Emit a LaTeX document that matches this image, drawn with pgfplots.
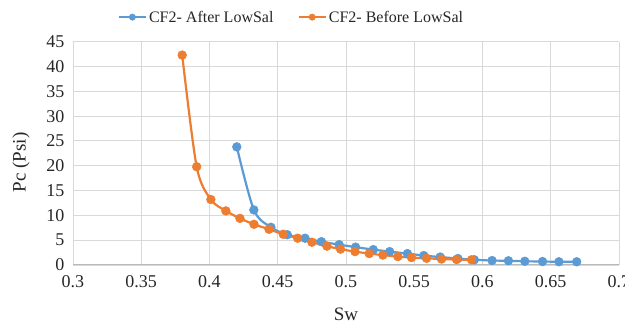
\documentclass[border=0pt]{standalone}
\usepackage{fontspec}
\setmainfont{Liberation Serif}
\usepackage{pgfplots}
\pgfplotsset{compat=1.18}
\definecolor{cblue}{HTML}{5B9BD5}
\definecolor{corange}{HTML}{ED7D31}
\begin{document}
\begin{tikzpicture}
\path[use as bounding box] (-73pt,-58pt) rectangle (552pt,265pt);
\begin{axis}[
  at={(0,0)}, anchor=south west,
  scale only axis, width=546pt, height=223.3pt,
  xmin=0.3, xmax=0.7, ymin=0, ymax=45,
  xtick={0.3,0.35,0.4,0.45,0.5,0.55,0.6,0.65,0.7},
  xticklabels={0.3,0.35,0.4,0.45,0.5,0.55,0.6,0.65,0.7},
  ytick={0,5,10,15,20,25,30,35,40,45},
  /pgf/number format/assume math mode=true,
  grid=major,
  grid style={draw=gray!30, line width=0.9pt},
  axis x line*=bottom, axis y line*=left,
  x axis line style={draw=gray!55, line width=1pt, -},
  y axis line style={draw=none},
  tick style={draw=none},
  major tick length=0pt,
  ticklabel style={font=\fontsize{18}{21}\selectfont, text=black!85},
  xticklabel style={yshift=-7pt},
  yticklabel style={xshift=-5pt},
  xlabel={Sw}, ylabel={Pc (Psi)},
  label style={font=\fontsize{19}{22}\selectfont, text=black!85},
  xlabel style={at={(axis description cs:0.5,0)}, anchor=center, yshift=-49pt},
  ylabel style={anchor=center, rotate=0},
  every axis y label/.append style={at={(axis description cs:-0.095,0.46)}},
  legend style={at={(axis description cs:0.4,1.11)}, anchor=center, draw=none, fill=none,
    font=\fontsize{16}{19}\selectfont, text=black!85,
    /tikz/every even column/.append style={column sep=22pt}},
  legend columns=2,
  legend image code/.code={\draw[mark repeat=2,mark phase=2,#1,line width=2.4pt,mark size=3.2pt] plot coordinates {(0pt,0pt) (13.5pt,0pt) (27pt,0pt)};},
]
\addplot[color=cblue, line width=2.2pt, mark=*, mark size=4.4pt, smooth, tension=0.5,
  mark options={solid, fill=cblue, draw=cblue, line width=0.5pt}]
coordinates {
(0.420,23.8) (0.4325,11.1) (0.445,7.6) (0.457,6.1) (0.470,5.4) (0.482,4.7)
(0.495,4.1) (0.507,3.6) (0.520,3.1) (0.532,2.7) (0.545,2.3) (0.557,1.9)
(0.569,1.6) (0.582,1.3) (0.594,1.05) (0.607,0.9) (0.619,0.85) (0.631,0.75)
(0.644,0.7) (0.656,0.65) (0.669,0.65)
};
\addlegendentry{CF2- After LowSal}
\addplot[color=corange, line width=2.2pt, mark=*, mark size=4.4pt, smooth, tension=0.5,
  mark options={solid, fill=corange, draw=corange, line width=0.5pt}]
coordinates {
(0.380,42.3) (0.3906,19.8) (0.401,13.2) (0.412,10.9) (0.4223,9.4) (0.4326,8.2)
(0.4436,7.2) (0.454,6.2) (0.4646,5.4) (0.475,4.6) (0.486,3.8) (0.496,3.2)
(0.5066,2.7) (0.517,2.3) (0.527,2.0) (0.538,1.7) (0.548,1.5) (0.559,1.35)
(0.570,1.2) (0.581,1.1) (0.592,1.05)
};
\addlegendentry{CF2- Before LowSal}
\end{axis}
\end{tikzpicture}
\end{document}
